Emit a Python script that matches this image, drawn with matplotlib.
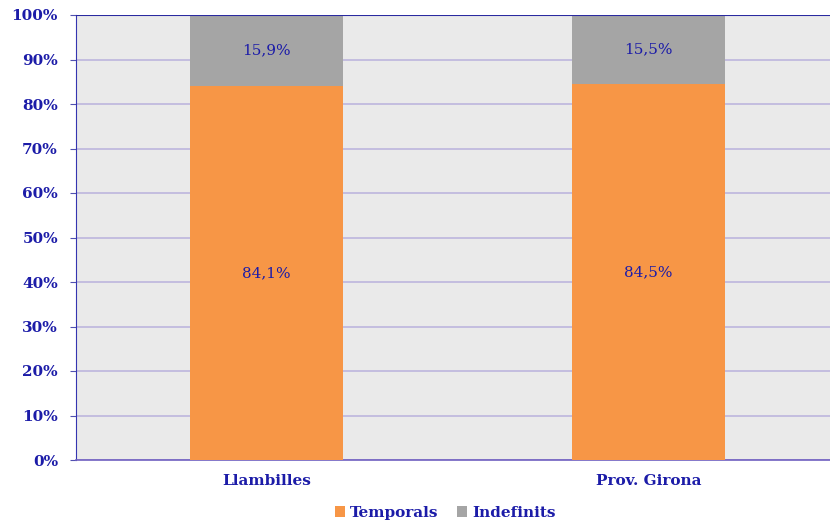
import matplotlib.pyplot as plt
import numpy as np

# Data
categories = ["Llambilles", "Prov. Girona"]
temporals = [84.1, 84.5]
indefinits = [15.9, 15.5]
temporal_labels = ["84,1%", "84,5%"]
indefinit_labels = ["15,9%", "15,5%"]

navy = "#1C1CA8"
font = "DejaVu Serif"

fig = plt.figure(figsize=(8.3, 5.25), dpi=100)
ax = fig.add_axes([76/830, 65/525, 763/830, 445/525])
ax.set_facecolor("#EAEAEA")

x = np.arange(len(categories))
width = 0.4
b1 = ax.bar(x, temporals, width, color="#F79646", label="Temporals", zorder=3)
b2 = ax.bar(x, indefinits, width, bottom=temporals, color="#A5A5A5", label="Indefinits", zorder=3)

for bar, lab in zip(b1, temporal_labels):
    ax.text(bar.get_x() + bar.get_width()/2, bar.get_height()/2, lab,
            ha="center", va="center", color=navy, fontsize=11, family=font)
for bar, lab, base in zip(b2, indefinit_labels, temporals):
    ax.text(bar.get_x() + bar.get_width()/2, base + bar.get_height()/2, lab,
            ha="center", va="center", color=navy, fontsize=11, family=font)

ax.set_xlim(-0.5, 1.5)
ax.set_ylim(0, 100)
ax.set_yticks(np.arange(0, 101, 10))
ax.set_yticklabels([f"{v}%" for v in range(0, 101, 10)], family=font,
                   fontweight="bold", fontsize=11, color=navy)
ax.set_xticks(x)
ax.set_xticklabels(categories, family=font, fontweight="bold", fontsize=11, color=navy)
ax.tick_params(axis="y", length=4, color="#5050B0", pad=9)
ax.tick_params(axis="x", length=0, pad=10)
ax.grid(axis="y", color="#BDB6DD", linewidth=1.2, zorder=0)
ax.axhline(100, color="#2A2AA0", linewidth=1.5, zorder=4)

for s in ["top", "right"]:
    ax.spines[s].set_visible(False)
ax.spines["left"].set_color("#3535B0")
ax.spines["bottom"].set_color("#7060C0")
ax.spines["bottom"].set_linewidth(1.2)

leg = fig.legend(loc="center", bbox_to_anchor=(445/830, 1 - 513/525), ncol=2,
                 frameon=False, handlelength=0.7, handleheight=0.7, handletextpad=0.3,
                 columnspacing=1.2, prop={"family": font, "weight": "bold", "size": 11})
for t in leg.get_texts():
    t.set_color(navy)

fig.savefig("out.png", dpi=100)
